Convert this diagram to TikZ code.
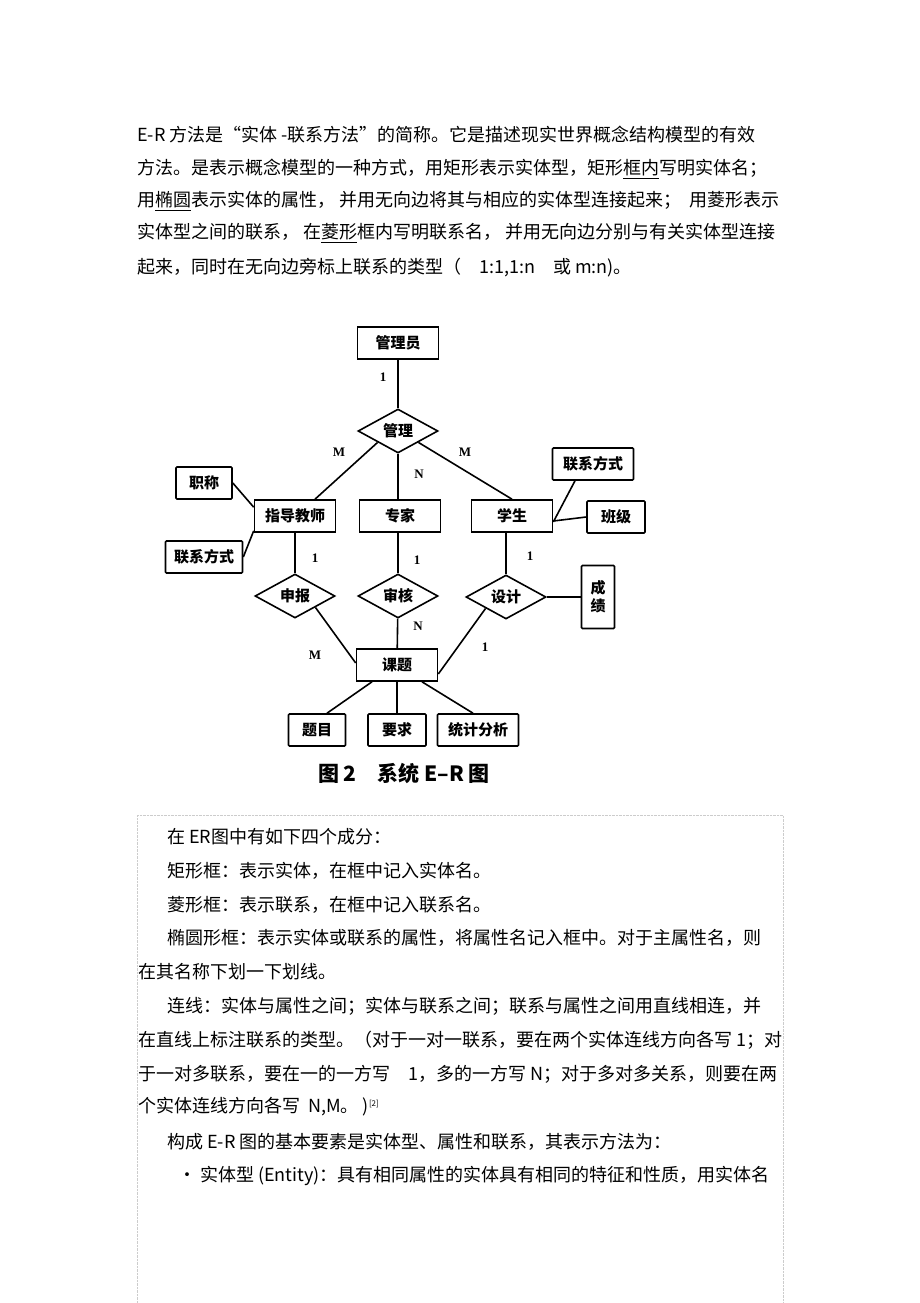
\documentclass[tikz,border=0pt]{standalone}
\usepackage{fontspec}
\setmainfont{Noto Sans CJK SC}
\newfontfamily\lblfont{Liberation Serif}
\usetikzlibrary{shapes.geometric, positioning, calc}
\tikzstyle{entity} = [rectangle, draw, line width=1.6pt, minimum width=81pt, minimum height=32pt, inner sep=0pt, font=\bfseries\fontsize{15}{15}\selectfont]
\tikzstyle{attr}   = [rectangle, draw, line width=1.6pt, rounded corners=1pt, minimum height=32pt, inner sep=0pt, font=\bfseries\fontsize{15}{15}\selectfont]
\tikzstyle{rel}    = [diamond, draw, line width=1.6pt, aspect=1.9, minimum width=80pt, minimum height=44pt, inner sep=0pt, font=\bfseries\fontsize{15}{15}\selectfont]
\tikzstyle{card}   = [font=\lblfont\bfseries\fontsize{13}{13}\selectfont]
\tikzstyle{link}   = [line width=1.6pt, black]
\tikzstyle{txt}    = [anchor=west, inner sep=0pt, font=\fontsize{18}{18}\selectfont]
\begin{document}
\begin{tikzpicture}[x=1pt, y=-1pt]
	\useasboundingbox (0,0) rectangle (920,1303);
	\fill[white] (0,0) rectangle (920,1303);

	% Top text
	\node (t1) [txt] at (137,135) {E-R 方法是“实体 -联系方法”的简称。它是描述现实世界概念结构模型的有效};
	\node (t2) [txt] at (137,169) {方法。是表示概念模型的一种方式，用矩形表示实体型，矩形\underline{框内}写明实体名；};
	\node (t3) [txt] at (137,201) {用\underline{椭圆}表示实体的属性，\ 并用无向边将其与相应的实体型连接起来；\ \ 用菱形表示};
	\node (t4) [txt] at (137,233) {实体型之间的联系，\ 在\underline{菱形}框内写明联系名，\ 并用无向边分别与有关实体型连接};
	\node (t5) [txt] at (137,268) {起来，同时在无向边旁标上联系的类型（\quad 1:1,1:n\quad 或 m:n)。};

	% Entities
	\node (admin) [entity] at (398,343) {管理员};
	\node (teacher) [entity] at (295,516) {指导教师};
	\node (expert) [entity] at (400,516) {专家};
	\node (student) [entity] at (512,516) {学生};
	\node (topic) [entity] at (397,665) {课题};

	% Relations
	\node (manage) [rel] at (398,431) {管理};
	\node (apply) [rel] at (295,596) {申报};
	\node (review) [rel] at (398,596) {审核};
	\node (design) [rel] at (506,597) {设计};

	% Attributes
	\node (title_a) [attr, minimum width=56pt] at (204,483) {职称};
	\node (contact_t) [attr, minimum width=77pt] at (204,557) {联系方式};
	\node (contact_s) [attr, minimum width=81pt] at (593,464) {联系方式};
	\node (class_s) [attr, minimum width=58pt] at (616,517) {班级};
	\node (score) [attr, minimum width=33pt, minimum height=63pt, align=center] at (598,597) {成\\[3pt]绩};
	\node (name_t) [attr, minimum width=57pt] at (317,730) {题目};
	\node (req_t) [attr, minimum width=58pt] at (397,730) {要求};
	\node (stat_t) [attr, minimum width=81pt] at (478,730) {统计分析};

	% Links
	\draw[link] (admin) -- (manage);
	\draw[link] ($(manage.west)!0.5!(manage.south)$) -- ([xshift=20pt]teacher.north);
	\draw[link] (manage.south) -- (expert.north-|manage.south);
	\draw[link] ($(manage.east)!0.5!(manage.south)$) -- (student.north);
	\draw[link] (title_a.east) -- ([yshift=-8pt]teacher.north west);
	\draw[link] (contact_t.east) -- ([yshift=2pt]teacher.south west);
	\draw[link] ([xshift=-18pt]contact_s.south) -- ([yshift=-6pt]student.east);
	\draw[link] (class_s.west) -- ([yshift=-5pt]student.east);
	\draw[link] (teacher) -- (apply);
	\draw[link] (expert.south-|review.north) -- (review);
	\draw[link] (student.south-|design.north) -- (design);
	\draw[link] (design.east) -- (score.west);
	\draw[link] ($(apply.east)!0.5!(apply.south)$) -- ([yshift=2pt]topic.west);
	\draw[link] (review) -- (topic);
	\draw[link] ($(design.west)!0.5!(design.south)$) -- ([yshift=-9pt]topic.east);
	\draw[link] ([xshift=-25pt]topic.south) -- ([xshift=10pt]name_t.north);
	\draw[link] (topic.south) -- (req_t.north);
	\draw[link] ([xshift=25pt]topic.south) -- ([xshift=-5pt]stat_t.north);

	% Cardinalities
	\node (c1) [card] at (383,377) {1};
	\node (c2) [card] at (339,452) {M};
	\node (c3) [card] at (465,452) {M};
	\node (c4) [card] at (419,474) {N};
	\node (c5) [card] at (315,558) {1};
	\node (c6) [card] at (417,560) {1};
	\node (c7) [card] at (530,556) {1};
	\node (c8) [card] at (418,626) {N};
	\node (c9) [card] at (315,655) {M};
	\node (c10) [card] at (485,647) {1};

	\node (caption) [font=\bfseries\fontsize{21}{21}\selectfont] at (404,773) {图 2\quad 系统 E--R 图};

	% Lower box
	\draw[gray!40, densely dotted] (137,815) -- (783,815) -- (783,1303);
	\draw[gray!40, densely dotted] (137,815) -- (137,1303);
	\node (b1) [txt] at (167,837) {在 ER图中有如下四个成分：};
	\node (b2) [txt] at (167,871) {矩形框：表示实体，在框中记入实体名。};
	\node (b3) [txt] at (167,905) {菱形框：表示联系，在框中记入联系名。};
	\node (b4) [txt] at (167,938) {椭圆形框：表示实体或联系的属性，将属性名记入框中。对于主属性名，则};
	\node (b5) [txt] at (138,972) {在其名称下划一下划线。};
	\node (b6) [txt] at (167,1006) {连线：实体与属性之间；实体与联系之间；联系与属性之间用直线相连，并};
	\node (b7) [txt] at (138,1040) {在直线上标注联系的类型。（对于一对一联系，要在两个实体连线方向各写\ 1；对};
	\node (b8) [txt] at (138,1074) {于一对多联系，要在一的一方写\quad 1，多的一方写\ N；对于多对多关系，则要在两};
	\node (b9) [txt] at (138,1107) {个实体连线方向各写\ \ N,M。 )$^{\mbox{\fontsize{8}{8}\selectfont[2]}}$};
	\node (b10) [txt] at (167,1142) {构成 E-R 图的基本要素是实体型、属性和联系，其表示方法为：};
	\node (b11) [txt] at (178,1176) {• 实体型 (Entity)：具有相同属性的实体具有相同的特征和性质，用实体名};
\end{tikzpicture}
\end{document}
